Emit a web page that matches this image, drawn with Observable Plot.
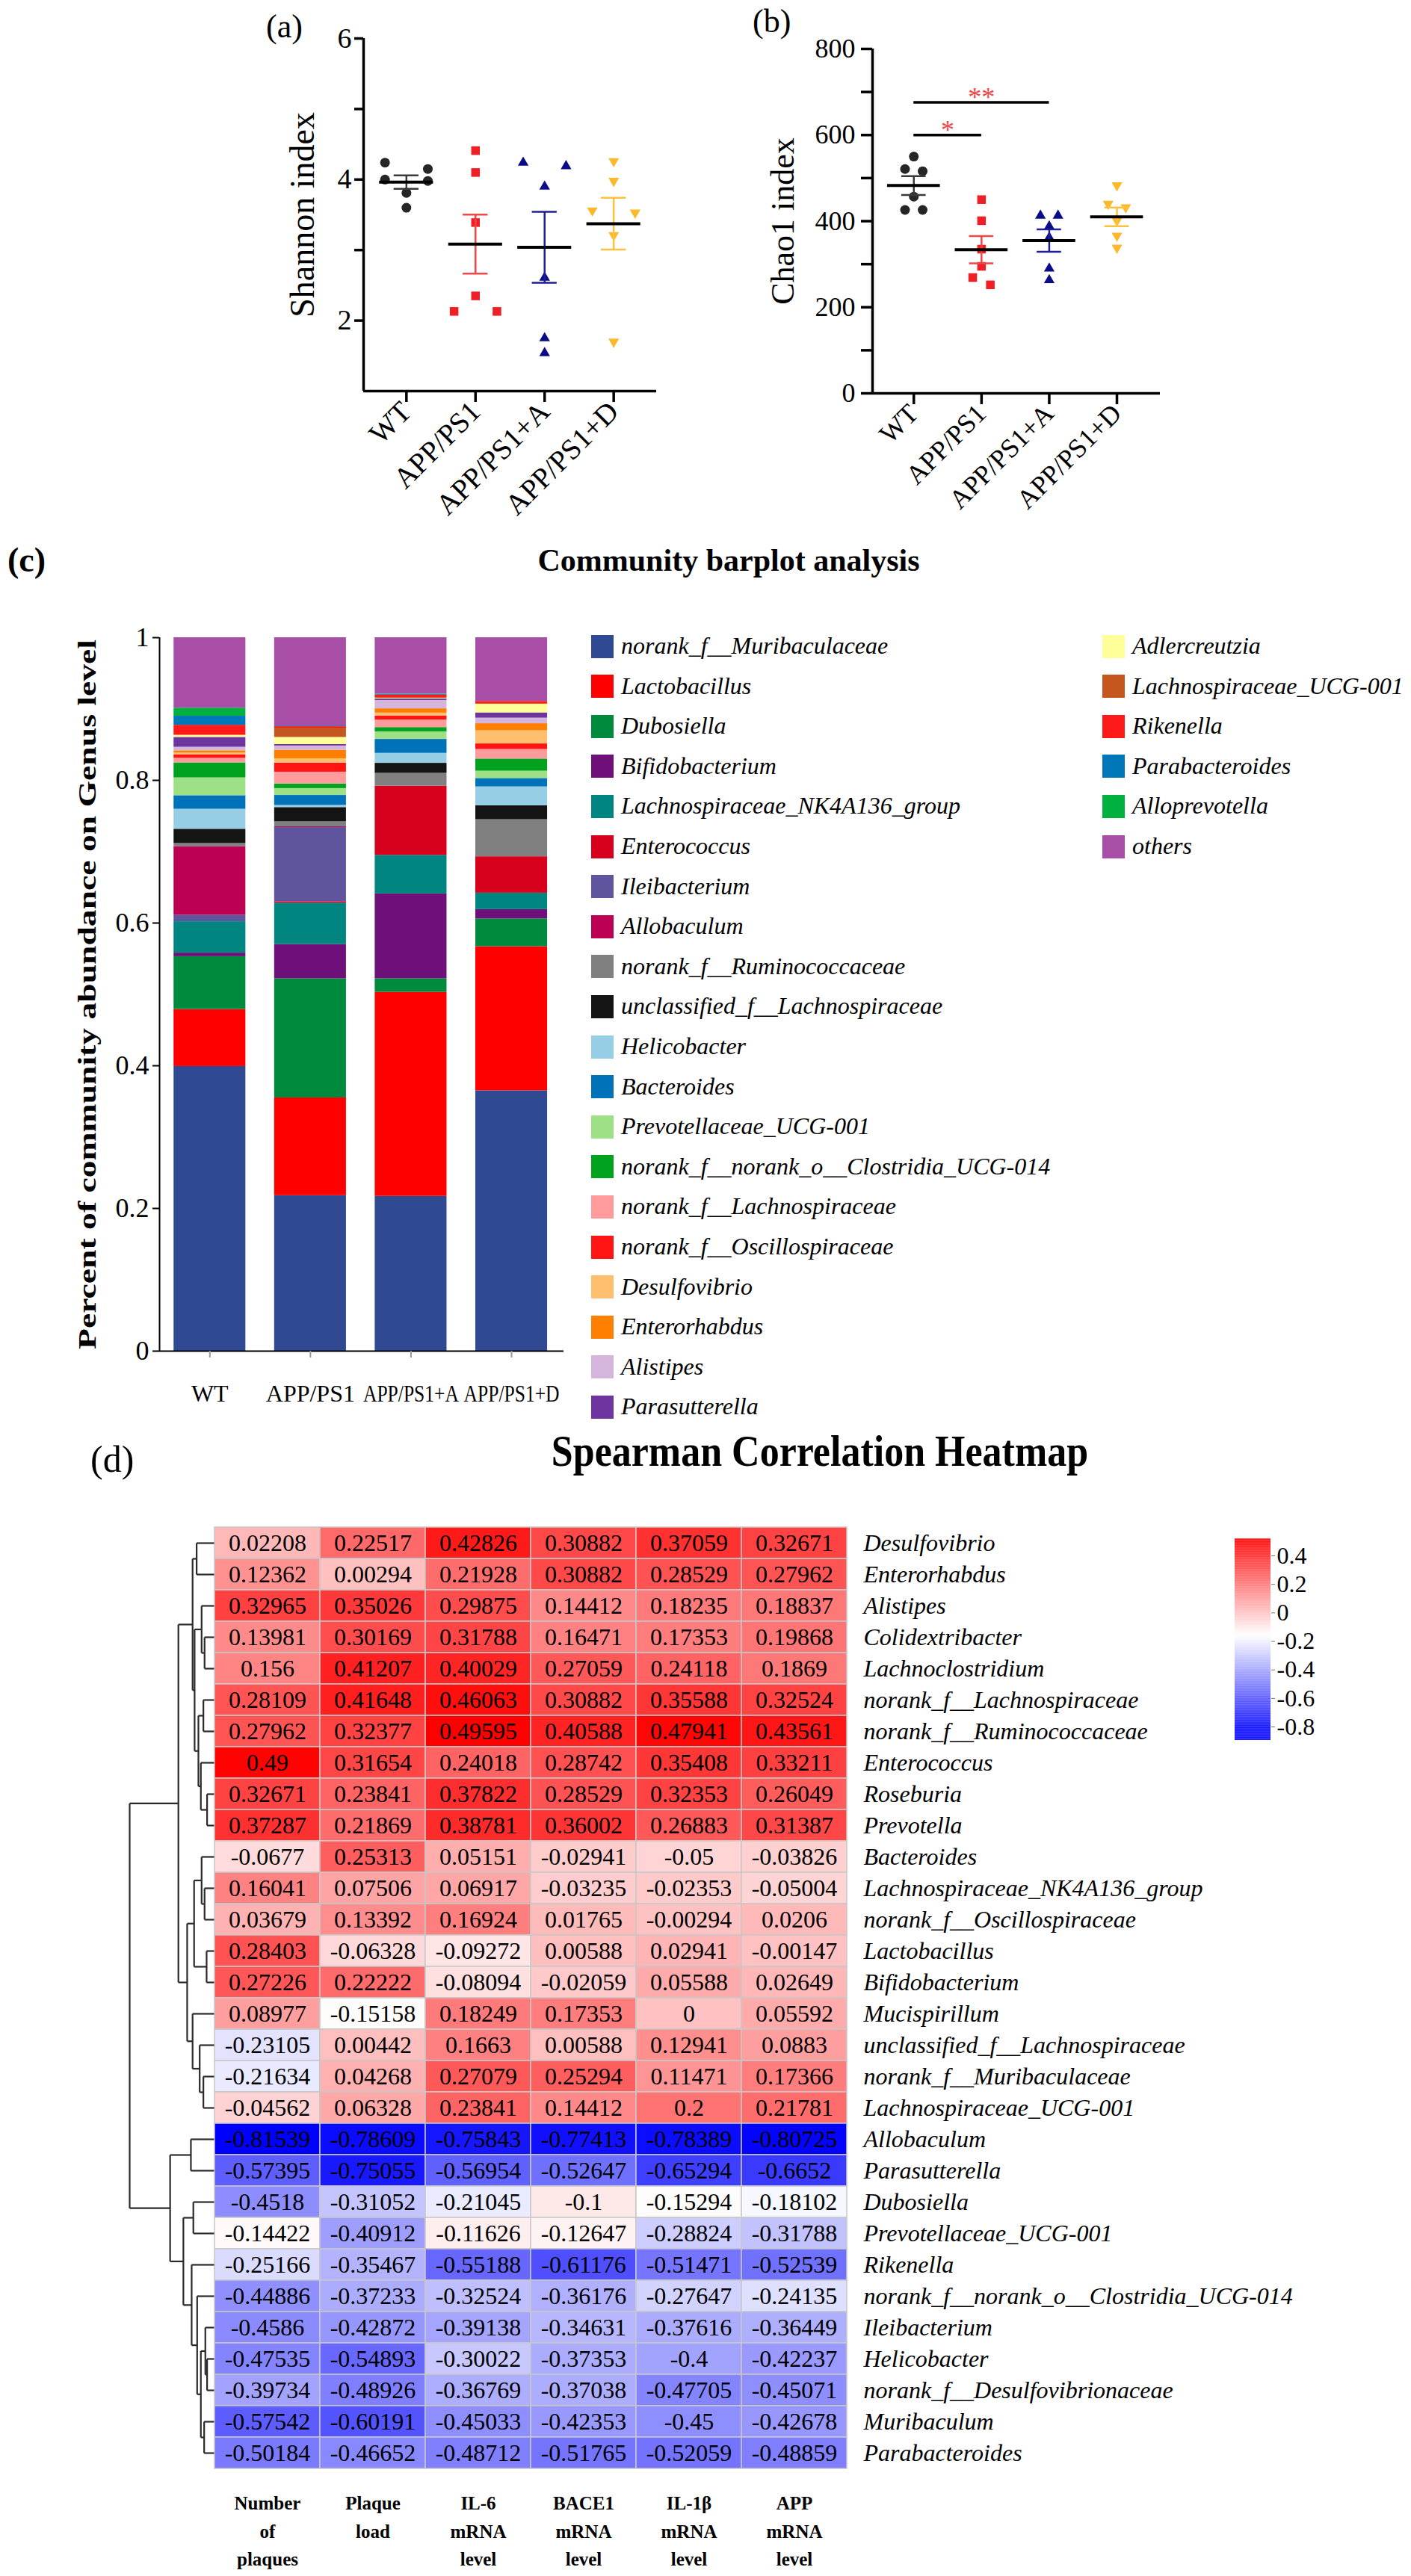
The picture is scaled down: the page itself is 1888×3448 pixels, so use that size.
<!DOCTYPE html>
<html>
<head>
<meta charset="utf-8">
<script src="https://cdn.jsdelivr.net/npm/d3@7"></script>
<script src="https://cdn.jsdelivr.net/npm/@observablehq/plot@0.6"></script>
<style>
  html, body { margin: 0; padding: 0; background: #fff; }
  #root { position: relative; width: 1888px; height: 3448px; overflow: hidden; font-family: "Liberation Serif", "Times New Roman", serif; color: #000; }
  #root svg { display: block; font-family: "Liberation Serif", "Times New Roman", serif; }
  .lbl { position: absolute; white-space: nowrap; line-height: 1; }
</style>
</head>
<body>
<div id="root"></div>
<script>
// ---------------- data: panels (a) and (b) ----------------
const groups = ["WT", "APP/PS1", "APP/PS1+A", "APP/PS1+D"];

const shannonWT  = [4.24, 4.15, 4.00, 3.98, 3.81, 3.60];
const shannonPS1 = [4.41, 4.10, 3.39, 2.35, 2.13, 2.13];
const shannonA   = [4.24, 4.19, 3.90, 2.61, 1.75, 1.54];
const shannonD   = [4.26, 3.98, 3.56, 3.53, 3.21, 1.70];

const chaoWT  = [550, 521, 516, 457, 426, 426];
const chaoPS1 = [450, 401, 335, 295, 269, 252];
const chaoA   = [413, 413, 388, 362, 290, 263];
const chaoD   = [483, 440, 432, 401, 366, 338];

const sigFrom = [0, 0];
const sigTo   = [1, 2];
const sigY    = [600, 676];
const sigMark = ["*", "**"];

// ---------------- data: panel (c) ----------------
const genera = [
  "norank_f__Muribaculaceae", "Lactobacillus", "Dubosiella", "Bifidobacterium",
  "Lachnospiraceae_NK4A136_group", "Enterococcus", "Ileibacterium", "Allobaculum",
  "norank_f__Ruminococcaceae", "unclassified_f__Lachnospiraceae", "Helicobacter", "Bacteroides",
  "Prevotellaceae_UCG-001", "norank_f__norank_o__Clostridia_UCG-014", "norank_f__Lachnospiraceae",
  "norank_f__Oscillospiraceae", "Desulfovibrio", "Enterorhabdus", "Alistipes", "Parasutterella",
  "Adlercreutzia", "Lachnospiraceae_UCG-001", "Rikenella", "Parabacteroides", "Alloprevotella", "others"
];
const abundWT  = [0.399, 0.080, 0.074, 0.005, 0.044, 0.000, 0.009, 0.096, 0.0046, 0.020, 0.028, 0.019, 0.025, 0.021, 0.0064, 0.005, 0.0025, 0.003, 0.005, 0.0138, 0.003, 0.000, 0.014, 0.0127, 0.0113, 0.0987];
const abundPS1 = [0.218, 0.137, 0.167, 0.048, 0.058, 0.002, 0.104, 0.001, 0.007, 0.020, 0.003, 0.014, 0.0096, 0.0064, 0.0166, 0.0127, 0.006, 0.012, 0.006, 0.002, 0.010, 0.013, 0.002, 0.001, 0.000, 0.1237];
const abundA   = [0.217, 0.286, 0.019, 0.119, 0.054, 0.097, 0.000, 0.000, 0.018, 0.014, 0.014, 0.0195, 0.0106, 0.006, 0.0106, 0.0057, 0.004, 0.006, 0.0117, 0.002, 0.001, 0.001, 0.0035, 0.001, 0.0005, 0.0789];
const abundD   = [0.365, 0.202, 0.039, 0.013, 0.023, 0.051, 0.000, 0.000, 0.052, 0.0195, 0.0265, 0.0117, 0.0103, 0.017, 0.0134, 0.0078, 0.0184, 0.0099, 0.0078, 0.0074, 0.012, 0.001, 0.003, 0.000, 0.000, 0.0893];
const barTicks = [0, 0.2, 0.4, 0.6, 0.8, 1];

// ---------------- data: panel (d) ----------------
const taxa = [
  "Desulfovibrio", "Enterorhabdus", "Alistipes", "Colidextribacter", "Lachnoclostridium",
  "norank_f__Lachnospiraceae", "norank_f__Ruminococcaceae", "Enterococcus", "Roseburia", "Prevotella",
  "Bacteroides", "Lachnospiraceae_NK4A136_group", "norank_f__Oscillospiraceae", "Lactobacillus", "Bifidobacterium",
  "Mucispirillum", "unclassified_f__Lachnospiraceae", "norank_f__Muribaculaceae", "Lachnospiraceae_UCG-001", "Allobaculum",
  "Parasutterella", "Dubosiella", "Prevotellaceae_UCG-001", "Rikenella", "norank_f__norank_o__Clostridia_UCG-014",
  "Ileibacterium", "Helicobacter", "norank_f__Desulfovibrionaceae", "Muribaculum", "Parabacteroides"
];
const variableLabels = ["Number\nof\nplaques", "Plaque\nload", "IL-6\nmRNA\nlevel", "BACE1\nmRNA\nlevel", "IL-1β\nmRNA\nlevel", "APP\nmRNA\nlevel"];

const rPlaques    = [0.02208, 0.12362, 0.32965, 0.13981, 0.156, 0.28109, 0.27962, 0.49, 0.32671, 0.37287, -0.0677, 0.16041, 0.03679, 0.28403, 0.27226, 0.08977, -0.23105, -0.21634, -0.04562, -0.81539, -0.57395, -0.4518, -0.14422, -0.25166, -0.44886, -0.4586, -0.47535, -0.39734, -0.57542, -0.50184];
const rPlaqueLoad = [0.22517, 0.00294, 0.35026, 0.30169, 0.41207, 0.41648, 0.32377, 0.31654, 0.23841, 0.21869, 0.25313, 0.07506, 0.13392, -0.06328, 0.22222, -0.15158, 0.00442, 0.04268, 0.06328, -0.78609, -0.75055, -0.31052, -0.40912, -0.35467, -0.37233, -0.42872, -0.54893, -0.48926, -0.60191, -0.46652];
const rIL6        = [0.42826, 0.21928, 0.29875, 0.31788, 0.40029, 0.46063, 0.49595, 0.24018, 0.37822, 0.38781, 0.05151, 0.06917, 0.16924, -0.09272, -0.08094, 0.18249, 0.1663, 0.27079, 0.23841, -0.75843, -0.56954, -0.21045, -0.11626, -0.55188, -0.32524, -0.39138, -0.30022, -0.36769, -0.45033, -0.48712];
const rBACE1      = [0.30882, 0.30882, 0.14412, 0.16471, 0.27059, 0.30882, 0.40588, 0.28742, 0.28529, 0.36002, -0.02941, -0.03235, 0.01765, 0.00588, -0.02059, 0.17353, 0.00588, 0.25294, 0.14412, -0.77413, -0.52647, -0.1, -0.12647, -0.61176, -0.36176, -0.34631, -0.37353, -0.37038, -0.42353, -0.51765];
const rIL1b       = [0.37059, 0.28529, 0.18235, 0.17353, 0.24118, 0.35588, 0.47941, 0.35408, 0.32353, 0.26883, -0.05, -0.02353, -0.00294, 0.02941, 0.05588, 0, 0.12941, 0.11471, 0.2, -0.78389, -0.65294, -0.15294, -0.28824, -0.51471, -0.27647, -0.37616, -0.4, -0.47705, -0.45, -0.52059];
const rAPP        = [0.32671, 0.27962, 0.18837, 0.19868, 0.1869, 0.32524, 0.43561, 0.33211, 0.26049, 0.31387, -0.03826, -0.05004, 0.0206, -0.00147, 0.02649, 0.05592, 0.0883, 0.17366, 0.21781, -0.80725, -0.6652, -0.18102, -0.31788, -0.52539, -0.24135, -0.36449, -0.42237, -0.45071, -0.42678, -0.48859];

// row clustering tree: [left, right, mergeHeight]; integers are row indices of taxa
const dendroTree = [
  [
    [[0, 1, 0.207], [[2, [3, 4, 0.113], 0.148], [[5, 6, 0.127], [7, [8, 9, 0.083], 0.157], 0.186], 0.231], 0.255],
    [[[10, [11, 12, 0.113], 0.148], [13, 14, 0.089], 0.237], [15, [16, [17, 18, 0.127], 0.171], 0.255], 0.319],
    0.423
  ],
  [
    [19, 20, 0.275],
    [[21, 22, 0.246], [23, [24, [[25, [26, 27, 0.083], 0.104], [28, 29, 0.118], 0.157], 0.201], 0.266], 0.364],
    0.521
  ],
  1.0
];
const legendTicks = [0.4, 0.2, 0, -0.2, -0.4, -0.6, -0.8];

// ---------------- styles ----------------
const FF = "Liberation Serif";
const groupFill = ["#262626", "#ee1f25", "#0b0b8a", "#fdb92c"];
const groupBar = ["#3a3a3a", "#f0474b", "#1f1f95", "#fcc23e"];
const downTriangle = {
  draw(ctx, size) {
    const y = -Math.sqrt(size / (Math.sqrt(3) * 3));
    ctx.moveTo(0, -y * 2);
    ctx.lineTo(-Math.sqrt(3) * y, y);
    ctx.lineTo(Math.sqrt(3) * y, y);
    ctx.closePath();
  }
};
const groupSymbol = ["circle", "square", "triangle", downTriangle];
const groupR = [6.5, 6.5, 5.3, 5.3];
const genusColors = [
  "#2f4a93", "#ff0000", "#008a3e", "#6f0f7a", "#008580", "#d7001d", "#5f549e", "#bc0052",
  "#808080", "#141414", "#95cee5", "#0072ba", "#9de085", "#00a21e", "#ff9b9b", "#ff1414",
  "#ffbf6e", "#ff7f00", "#d5b5dc", "#6e34a0", "#ffff99", "#c4561e", "#ff1a1a", "#0077b8", "#00b140", "#a94ea6"
];
const heatColor = {type: "linear", domain: [-0.81539, -0.16, 0.49595], range: ["#0000ff", "#ffffff", "#ff0000"], clamp: true};
const svgStyle = {fontFamily: "'Liberation Serif', 'Times New Roman', serif", background: "transparent", overflow: "visible", color: "#000"};

const root = document.getElementById("root");
function place(el, left, top) {
  const w = document.createElement("div");
  w.style.position = "absolute";
  w.style.left = left + "px";
  w.style.top = top + "px";
  w.appendChild(el);
  root.appendChild(w);
}
function label(text, left, top, css) {
  const d = document.createElement("div");
  d.className = "lbl";
  d.textContent = text;
  d.style.left = left + "px";
  d.style.top = top + "px";
  d.style.cssText += css || "";
  root.appendChild(d);
  return d;
}
function squeeze(svg, texts, maxLen) {
  svg.querySelectorAll("text").forEach(t => {
    if (texts.includes(t.textContent) && t.getComputedTextLength() > maxLen) {
      t.setAttribute("textLength", maxLen);
      t.setAttribute("lengthAdjust", "spacingAndGlyphs");
    }
  });
}

// ---------------- scatter panels ----------------
function scatterPlot(o) {
  const rows = [];
  o.values.forEach((vals, g) => {
    const sorted = vals.slice().sort((a, b) => b - a);
    const clusters = [];
    let cur = [sorted[0]];
    for (let k = 1; k < sorted.length; k++) {
      if (cur[cur.length - 1] - sorted[k] < o.gap) cur.push(sorted[k]);
      else { clusters.push(cur); cur = [sorted[k]]; }
    }
    clusters.push(cur);
    for (const cl of clusters) cl.forEach((v, j) => {
      const k = j - (cl.length - 1) / 2;
      rows.push({g, v, x: g + k * o.step});
    });
  });
  const stats = o.values.map((vals, g) => ({g, mean: d3.mean(vals), sem: d3.deviation(vals) / Math.sqrt(vals.length)}));
  const x0 = o.xDomain[0], y0 = o.yDomain[0];
  return Plot.plot({
    width: o.width, height: o.height,
    marginLeft: o.ml, marginRight: o.mr, marginTop: o.mt, marginBottom: o.mb,
    x: {domain: o.xDomain},
    y: {domain: o.yDomain},
    color: {type: "identity"},
    style: svgStyle,
    marks: [
      Plot.axisY({ticks: o.major, tickFormat: d => String(d), tickSize: o.tickSize, tickPadding: o.tickPad, strokeWidth: 3.5, fontSize: o.tickFont, fontFamily: FF, label: null}),
      Plot.axisY({ticks: o.minor, tickFormat: () => "", tickSize: o.tickSize, strokeWidth: 3.5, label: null}),
      Plot.axisX({ticks: [0, 1, 2, 3], tickFormat: i => groups[i], tickRotate: -45, tickSize: 15, tickPadding: 6, strokeWidth: 3.5, fontSize: o.catFont, fontFamily: FF, label: null}),
      Plot.ruleY([y0], {strokeWidth: 3.5}),
      Plot.ruleX([x0], {strokeWidth: 3.5}),
      Plot.text([o.label], {frameAnchor: "left", textAnchor: "middle", rotate: -90, dx: o.labelDx, fontSize: o.labelFont, fontFamily: FF, text: d => d}),
      ...groups.map((_, g) => Plot.dot(rows.filter(d => d.g === g), {x: "x", y: "v", r: groupR[g], symbol: groupSymbol[g], fill: groupFill[g]})),
      Plot.ruleX(stats, {x: "g", y1: d => d.mean - d.sem, y2: d => d.mean + d.sem, stroke: d => groupBar[d.g], strokeWidth: 2.5}),
      Plot.ruleY(stats, {y: d => d.mean + d.sem, x1: d => d.g - 0.18, x2: d => d.g + 0.18, stroke: d => groupBar[d.g], strokeWidth: 2.5}),
      Plot.ruleY(stats, {y: d => d.mean - d.sem, x1: d => d.g - 0.18, x2: d => d.g + 0.18, stroke: d => groupBar[d.g], strokeWidth: 2.5}),
      Plot.ruleY(stats, {y: "mean", x1: d => d.g - 0.39, x2: d => d.g + 0.39, stroke: "#000", strokeWidth: 4}),
      ...(o.extra || [])
    ]
  });
}

const plotA = scatterPlot({
  values: [shannonWT, shannonPS1, shannonA, shannonD],
  gap: 0.12, step: 0.62,
  width: 940, height: 800, ml: 486, mr: 62, mt: 51, mb: 277,
  xDomain: [-0.62, 3.62], yDomain: [1, 6],
  major: [2, 4, 6], minor: [3, 5], tickSize: 12, tickPad: 4, tickFont: 38, catFont: 39,
  label: "Shannon index", labelDx: -81, labelFont: 46
});
place(plotA, 0, 0);

const sig = sigFrom.map((f, i) => ({from: f, to: sigTo[i], y: sigY[i], mark: sigMark[i]}));
const plotB = scatterPlot({
  values: [chaoWT, chaoPS1, chaoA, chaoD],
  gap: 22.5, step: 0.26,
  width: 700, height: 800, ml: 227, mr: 88, mt: 65, mb: 274,
  xDomain: [-0.61, 3.64], yDomain: [0, 800],
  major: [0, 200, 400, 600, 800], minor: [100, 300, 500, 700], tickSize: 15, tickPad: 8, tickFont: 36, catFont: 36,
  label: "Chao1 index", labelDx: -120, labelFont: 44,
  extra: [
    Plot.ruleY(sig, {y: "y", x1: "from", x2: "to", strokeWidth: 3.5, stroke: "#000"}),
    Plot.text(sig, {x: d => (d.from + d.to) / 2, y: "y", text: "mark", dy: -6, fontSize: 36, fontFamily: FF, fill: "#f04848"})
  ]
});
place(plotB, 940, 0);

// ---------------- panel (c) stacked bars ----------------
const abundance = [abundWT, abundPS1, abundA, abundD];
const barRows = groups.flatMap((grp, gi) => genera.map((genus, k) => ({gi, genus, value: abundance[gi][k]})));
const barYLabel = "Percent of community abundance on Genus level";
const plotC = Plot.plot({
  width: 780, height: 1100, marginLeft: 213, marginRight: 26, marginTop: 53, marginBottom: 92,
  x: {domain: [-0.5, 3.52]},
  y: {domain: [0, 1]},
  color: {domain: genera, range: genusColors},
  style: svgStyle,
  marks: [
    Plot.rect(barRows, Plot.stackY({x: "gi", y: "value", x1: d => d.gi - 0.357, x2: d => d.gi + 0.357, fill: "genus", order: null})),
    Plot.ruleY([0], {strokeWidth: 2}),
    Plot.ruleX([-0.5], {strokeWidth: 2}),
    Plot.axisY({ticks: barTicks, tickFormat: d => String(d), tickSize: 9, tickPadding: 5, fontSize: 36, fontFamily: FF, strokeWidth: 2, label: null}),
    Plot.axisX({ticks: [0, 1, 2, 3], tickFormat: i => groups[i], tickSize: 9, tickPadding: 36, fontSize: 32, fontFamily: FF, stroke: "#999", strokeWidth: 2, label: null}),
    Plot.text([barYLabel], {frameAnchor: "left", textAnchor: "middle", rotate: -90, dx: -96, fontSize: 33, fontWeight: "bold", fontFamily: FF, text: d => d})
  ]
});
place(plotC, 0, 800);
plotC.querySelectorAll("text").forEach(t => {
  if (t.textContent === barYLabel) { t.setAttribute("textLength", 950); t.setAttribute("lengthAdjust", "spacingAndGlyphs"); }
});
squeeze(plotC, groups, 128);

// legend for (c)
genera.forEach((g, k) => {
  const col = k < 20 ? 0 : 1;
  const row = k < 20 ? k : k - 20;
  const cy = 865 + row * 53.6;
  const sw = document.createElement("div");
  sw.style.cssText = `position:absolute;left:${col ? 1475 : 791}px;top:${cy - 15.5}px;width:30px;height:31px;background:${genusColors[k]};`;
  root.appendChild(sw);
  label(g, col ? 1515 : 831, cy - 17, "font-style:italic;font-size:32px;");
});

// ---------------- panel (d) heatmap ----------------
const corrColumns = [rPlaques, rPlaqueLoad, rIL6, rBACE1, rIL1b, rAPP];
const cells = taxa.flatMap((t, i) => corrColumns.map((arr, j) => ({taxon: t, col: variableLabels[j], r: arr[i]})));
const plotD = Plot.plot({
  width: 1602, height: 1404, marginLeft: 0, marginRight: 755, marginTop: 0, marginBottom: 144,
  x: {domain: variableLabels, padding: 0, axis: null},
  y: {domain: taxa, padding: 0, axis: null},
  color: heatColor,
  style: svgStyle,
  marks: [
    Plot.cell(cells, {x: "col", y: "taxon", fill: "r", stroke: "#c8c8c8", strokeWidth: 1.5}),
    Plot.text(cells, {x: "col", y: "taxon", text: d => String(d.r), fontSize: 32, fontFamily: FF, fill: "#000"}),
    Plot.text(taxa, {y: d => d, frameAnchor: "right", textAnchor: "start", dx: 22, fontSize: 32, fontStyle: "italic", fontFamily: FF, text: d => d}),
    Plot.text(variableLabels, {x: d => d, frameAnchor: "bottom", textAnchor: "middle", lineAnchor: "top", dy: 28, lineHeight: 1.5, fontSize: 25, fontWeight: "bold", fontFamily: FF, text: d => d})
  ]
});
place(plotD, 286, 2044);

// dendrogram
const dendroSegs = [];
function walk(node) {
  if (typeof node === "number") return {y: node, h: 0};
  const a = walk(node[0]), b = walk(node[1]), h = node[2];
  dendroSegs.push({x1: h, y1: a.y, x2: h, y2: b.y});
  dendroSegs.push({x1: h, y1: a.y, x2: a.h, y2: a.y});
  dendroSegs.push({x1: h, y1: b.y, x2: b.h, y2: b.y});
  return {y: (a.y + b.y) / 2, h};
}
walk(dendroTree);
const plotDendro = Plot.plot({
  width: 126, height: 1260, marginLeft: 13, marginRight: 0, marginTop: 0, marginBottom: 0,
  x: {domain: [1, 0], axis: null},
  y: {domain: [taxa.length - 0.5, -0.5], axis: null},
  style: svgStyle,
  marks: [
    Plot.link(dendroSegs, {x1: "x1", y1: "y1", x2: "x2", y2: "y2", stroke: "#2a2a2a", strokeWidth: 2.2})
  ]
});
place(plotDendro, 160, 2044);

// color legend
const ramp = d3.range(-0.894, 0.515, 0.004);
const plotLegend = Plot.plot({
  width: 150, height: 310, marginLeft: 12, marginRight: 90, marginTop: 20, marginBottom: 21,
  y: {domain: [-0.894, 0.515]},
  color: heatColor,
  style: svgStyle,
  marks: [
    Plot.rect(ramp, {y1: d => d, y2: d => d + 0.0045, fill: d => d + 0.002}),
    Plot.axisY({anchor: "right", ticks: legendTicks, tickFormat: d => String(d), tickSize: 5, tickPadding: 3, fontSize: 32, fontFamily: FF, stroke: "#777", label: null})
  ]
});
place(plotLegend, 1640, 2040);

// ---------------- titles & panel letters ----------------
label("(a)", 356, 14, "font-size:44px;");
label("(b)", 1007, 7, "font-size:44px;");
label("(c)", 10, 727, "font-size:46px;font-weight:bold;");
label("(d)", 121, 1928, "font-size:50px;");
label("Community barplot analysis", 975, 750, "font-size:42px;font-weight:bold;transform:translate(-50%,-50%);");
label("Spearman Correlation Heatmap", 1097, 1942, "font-size:52px;font-weight:bold;transform:translate(-50%,-50%) scaleY(1.15);");
</script>
</body>
</html>
